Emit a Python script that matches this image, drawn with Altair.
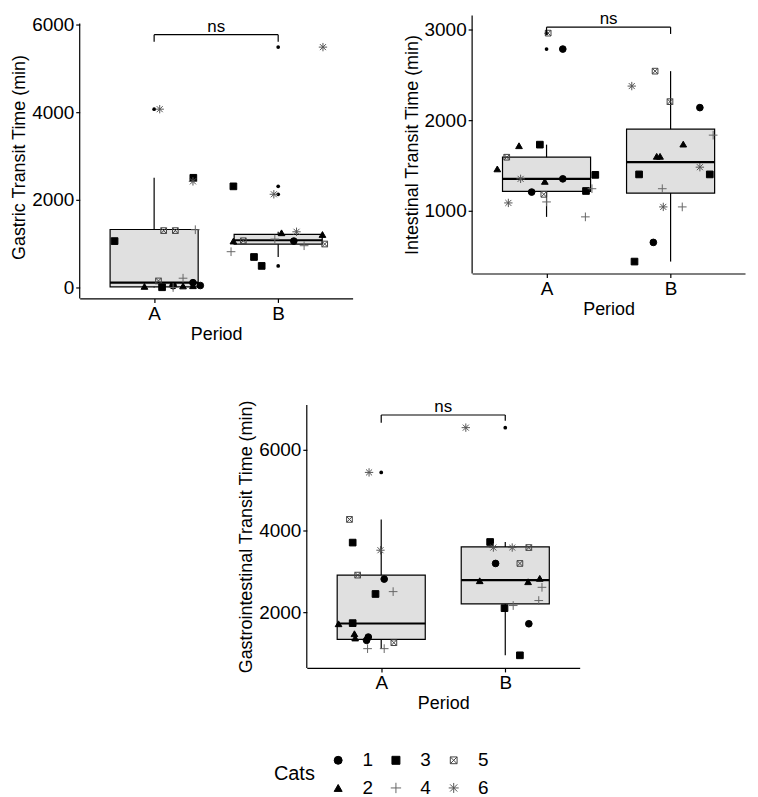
import altair as alt
import pandas as pd

FONT = "Liberation Sans"

# ---------------- data ----------------
period_pos = {"A": 1, "B": 2}

# Gastric transit time
gt_period = ["A"] * 17 + ["B"] * 15
gt_cat = ["3", "5", "5", "4", "3", "6", "6", "2", "5", "3", "1", "4", "2", "4", "2", "1", "1",
          "6", "3", "6", "3", "3", "2", "2", "2", "5", "5", "1", "6", "4", "4", "4"]
gt_jitter = [-0.319, 0.077, 0.171, 0.332, 0.316, 0.313, 0.045, -0.078, 0.035, 0.064, 0.153, 0.153, 0.233, 0.233, 0.313, 0.313, 0.372,
             0.361, -0.361, -0.035, -0.133, -0.195, -0.361, 0.027, 0.357, -0.281, 0.375, 0.126, 0.148, -0.380, 0.209, -0.027]
gt_value = [1060, 1300, 1300, 1320, 2507, 2425, 4075, 25, 150, 5, 40, 0, 35, 212, 40, 110, 45,
            5493, 2311, 2130, 493, 697, 1061, 1250, 1211, 1068, 993, 1061, 1273, 818, 955, 1106]
gt_box_lower = [0, 697]
gt_box_q1 = [15, 990]
gt_box_median = [110, 1080]
gt_box_q3 = [1325, 1215]
gt_box_upper = [2507, 1273]
gt_out_period = ["A", "B", "B", "B", "B"]
gt_out_value = [4075, 5493, 2311, 2130, 493]
gt_bracket = [5777, 5617, 5617]

# Intestinal transit time
it_period = ["A"] * 17 + ["B"] * 16
it_cat = ["5", "1", "2", "2", "2", "3", "3", "3", "5", "5", "6", "6", "1", "1", "4", "4", "4",
          "5", "5", "6", "6", "6", "1", "1", "2", "2", "2", "3", "3", "3", "4", "4", "4"]
it_jitter = [0.013, 0.131, -0.222, -0.397, -0.014, -0.054, 0.393, 0.318, -0.321, -0.022, -0.209, -0.308, 0.131, -0.120, 0.0, 0.313, 0.366,
             -0.125, -0.005, -0.313, 0.236, -0.059, 0.236, -0.139, 0.102, -0.112, -0.085, -0.254, 0.316, -0.291, 0.343, -0.067, 0.094]
it_value = [2964, 2788, 1720, 1464, 1326, 1732, 1398, 1220, 1593, 1183, 1354, 1088, 1354, 1208, 1099, 934, 1245,
            2544, 2207, 2379, 1483, 1044, 2141, 652, 1738, 1603, 1603, 1403, 1403, 440, 1837, 1245, 1044]
it_box_lower = [934, 440]
it_box_q1 = [1216, 1197]
it_box_median = [1354, 1538]
it_box_q3 = [1593, 1903]
it_box_upper = [1732, 2544]
it_out_period = ["A", "A"]
it_out_value = [2964, 2788]
it_bracket = [3030, 2945, 2955]

# Gastrointestinal transit time
gi_period = ["A"] * 17 + ["B"] * 16
gi_cat = ["6", "5", "3", "6", "5", "1", "3", "4", "2", "3", "2", "2", "1", "1", "4", "4", "5",
          "6", "3", "6", "6", "5", "5", "1", "2", "2", "2", "4", "4", "4", "3", "3", "1"]
gi_jitter = [-0.098, -0.256, -0.230, -0.006, -0.190, 0.024, -0.046, 0.096, -0.344, -0.230, -0.216, -0.210, -0.104, -0.118, -0.110, 0.024, 0.102,
             -0.318, -0.122, -0.096, 0.056, 0.190, 0.118, -0.078, -0.206, 0.184, 0.278, 0.296, 0.064, 0.270, -0.006, 0.118, 0.190]
gi_value = [5443, 4285, 3714, 3526, 2913, 2815, 2448, 2506, 1714, 1730, 1469, 1363, 1387, 1306, 1101, 1101, 1248,
            6546, 3729, 3592, 3592, 3592, 3200, 3200, 2774, 2750, 2833, 2612, 2163, 2286, 2098, 937, 1714]
gi_box_lower = [1101, 937]
gi_box_q1 = [1330, 2204]
gi_box_median = [1720, 2791]
gi_box_q3 = [2913, 3607]
gi_box_upper = [4285, 3729]
gi_out_period = ["A", "B"]
gi_out_value = [5443, 6546]
gi_bracket = [6858, 6668, 6717]

# legend / shapes
cat_domain = ["1", "2", "3", "4", "5", "6"]
PLUS = "M-1.3,0L1.3,0M0,-1.3L0,1.3"
AST = "M-1.25,0L1.25,0M0,-1.25L0,1.25M-0.9,-0.9L0.9,0.9M-0.9,0.9L0.9,-0.9"
SQX = "M-0.85,-0.85L0.85,-0.85L0.85,0.85L-0.85,0.85Z M-0.85,-0.85L0.85,0.85M0.85,-0.85L-0.85,0.85"
shape_range = ["circle", "triangle-up", "square", PLUS, SQX, AST]
fill_range = ["black", "black", "black", "transparent", "transparent", "transparent"]
stroke_range = ["black", "black", "black", "#666666", "#444444", "#555555"]

HALF = 0.355

LEG = alt.Legend(title="Cats", orient="none", legendX=195, legendY=738, columns=3,
                 titleOrient="left", titleAnchor="middle", titleFontSize=20, titleFont=FONT,
                 titleColor="black", titleFontWeight="normal", titlePadding=13,
                 labelFontSize=19, labelFont=FONT, labelColor="black", labelOffset=15,
                 symbolSize=64, symbolStrokeWidth=1, columnPadding=13, rowPadding=8)


def panel(title, per, cats, jit, vals, lo, q1, med, q3, up, out_p, out_v, br,
          ydom, yticks, height, axis_top):
    pts = pd.DataFrame({
        "x": [period_pos[p] + j for p, j in zip(per, jit)],
        "y": vals, "cat": cats})
    centers = [1, 2]
    box = pd.DataFrame({"x": [c - HALF for c in centers], "x2": [c + HALF for c in centers],
                        "y": q1, "y2": q3, "med": med})
    whisk = pd.DataFrame({"x": centers + centers, "y": q3 + q1, "y2": up + lo})
    outl = pd.DataFrame({"x": [period_pos[p] for p in out_p], "y": out_v})
    br_h = pd.DataFrame({"x": [1], "x2": [2], "y": [br[0]]})
    br_v = pd.DataFrame({"x": [1, 2], "y": [br[1], br[2]], "y2": [br[0], br[0]]})
    txt = pd.DataFrame({"x": [1.5], "y": [br[0]], "t": ["ns"]})
    yline = pd.DataFrame({"x": [0.4], "y": [ydom[0]], "y2": [axis_top]})

    xs = alt.Scale(domain=[0.4, 2.6], nice=False, zero=False)
    ys = alt.Scale(domain=ydom, nice=False, zero=False)
    xax = alt.Axis(values=[1, 2], labelExpr="datum.value == 1 ? 'A' : 'B'", title="Period")
    yax = alt.Axis(values=yticks, title=title, domain=False, format="d")

    def X(f="x"):
        return alt.X(f"{f}:Q", scale=xs, axis=xax)

    def Y(f="y"):
        return alt.Y(f"{f}:Q", scale=ys, axis=yax)

    l_box = alt.Chart(box).mark_bar(fill="#e0e0e0", stroke="black", strokeWidth=1.2).encode(
        x=X(), x2="x2:Q", y=Y(), y2="y2:Q")
    l_wh = alt.Chart(whisk).mark_rule(color="black", strokeWidth=1.2).encode(
        x=X(), y=Y(), y2="y2:Q")
    l_med = alt.Chart(box).mark_rule(color="black", strokeWidth=2.2).encode(
        x=X(), x2="x2:Q", y=alt.Y("med:Q", scale=ys, axis=yax))
    l_out = alt.Chart(outl).mark_circle(size=14, color="black", opacity=1).encode(x=X(), y=Y())
    l_pts = alt.Chart(pts).mark_point(size=45, strokeWidth=1, opacity=1).encode(
        x=X(), y=Y(),
        shape=alt.Shape("cat:N", scale=alt.Scale(domain=cat_domain, range=shape_range), legend=LEG),
        fill=alt.Fill("cat:N", scale=alt.Scale(domain=cat_domain, range=fill_range), legend=LEG),
        stroke=alt.Stroke("cat:N", scale=alt.Scale(domain=cat_domain, range=stroke_range), legend=LEG),
    )
    l_brh = alt.Chart(br_h).mark_rule(color="black", strokeWidth=1.2).encode(x=X(), x2="x2:Q", y=Y())
    l_brv = alt.Chart(br_v).mark_rule(color="black", strokeWidth=1.2).encode(x=X(), y=Y(), y2="y2:Q")
    l_txt = alt.Chart(txt).mark_text(baseline="alphabetic", dy=-3, fontSize=17, font=FONT, color="black").encode(
        x=X(), y=Y(), text="t:N")
    l_axis = alt.Chart(yline).mark_rule(color="black", strokeWidth=1.2).encode(x=X(), y=Y(), y2="y2:Q")

    return alt.layer(l_box, l_wh, l_med, l_out, l_pts, l_brh, l_brv, l_txt, l_axis).properties(
        width=274, height=height)


p1 = panel("Gastric Transit Time (min)", gt_period, gt_cat, gt_jitter, gt_value,
           gt_box_lower, gt_box_q1, gt_box_median, gt_box_q3, gt_box_upper,
           gt_out_period, gt_out_value, gt_bracket, [-250, 6214], [0, 2000, 4000, 6000], 284, 6030)
p2 = panel("Intestinal Transit Time (min)", it_period, it_cat, it_jitter, it_value,
           it_box_lower, it_box_q1, it_box_median, it_box_q3, it_box_upper,
           it_out_period, it_out_value, it_bracket, [308, 3158], [1000, 2000, 3000], 259, 3158)
p3 = panel("Gastrointestinal Transit Time (min)", gi_period, gi_cat, gi_jitter, gi_value,
           gi_box_lower, gi_box_q1, gi_box_median, gi_box_q3, gi_box_upper,
           gi_out_period, gi_out_value, gi_bracket, [626, 7104], [2000, 4000, 6000], 264, 7104)

spacer = alt.Chart(pd.DataFrame({"v": [0]})).mark_point(opacity=0, size=0).encode(
    x=alt.value(0), y=alt.value(0)).properties(width=158, height=10)

top = alt.hconcat(p1, p2, spacing=50)
bottom = alt.hconcat(spacer, p3, spacing=0)
chart = alt.vconcat(top, bottom, spacing=55).properties(
    padding={"left": 2, "top": 0, "right": 5, "bottom": 0}
).configure_view(stroke=None).configure_axis(
    labelFont=FONT, titleFont=FONT, labelFontSize=19, titleFontSize=18, labelColor="black",
    titleColor="black", titleFontWeight="normal", grid=False, domainColor="black", domainWidth=1.2,
    tickColor="black", tickWidth=1.2, tickSize=4, labelPadding=2, titlePadding=3
).configure_axisX(titlePadding=2)

chart.save("out.html", embed_options={"renderer": "svg", "actions": False})
